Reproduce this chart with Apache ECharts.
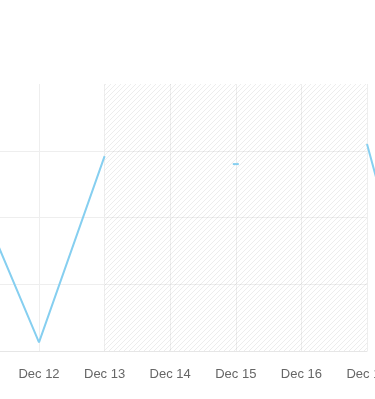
<!DOCTYPE html>
<html>
<head>
<meta charset="utf-8">
<script src="https://cdn.jsdelivr.net/npm/echarts@6/dist/echarts.min.js"></script>
<style>html,body{margin:0;padding:0;background:#fff}#c{width:375px;height:399px}</style>
</head>
<body>
<div id="c"></div>
<script>
var days = ['Dec 11', 'Dec 12', 'Dec 13', 'Dec 14', 'Dec 15', 'Dec 16', 'Dec 17', 'Dec 18'];
var values = [2.46, 0.13, 2.92, null, 2.80, null, 3.10, -0.5];
var hatchFrom = 'Dec 13';
var hatchTo = 'Dec 17';
var visibleLast = 'Dec 17';

function hatch() {
  var s = 5;
  var cv = document.createElement('canvas');
  cv.width = s; cv.height = s;
  var ctx = cv.getContext('2d');
  ctx.clearRect(0, 0, s, s);
  ctx.strokeStyle = 'rgba(0,0,0,0.07)';
  ctx.lineWidth = 1;
  ctx.beginPath();
  ctx.moveTo(0, s); ctx.lineTo(s, 0);
  ctx.moveTo(-s, s); ctx.lineTo(s, -s);
  ctx.moveTo(0, 2 * s); ctx.lineTo(2 * s, 0);
  ctx.stroke();
  return cv;
}

var lineData = values.map(function (v, i) {
  if (v === null) return [i, null];
  var prev = i > 0 ? values[i - 1] : null;
  var next = i < values.length - 1 ? values[i + 1] : null;
  if (prev === null && next === null) {
    return { value: [i, v], symbol: 'rect', symbolSize: [6, 2] };
  }
  return [i, v];
});

var lastIdx = days.indexOf(visibleLast);
var step = 65.6;

var chart = echarts.init(document.getElementById('c'), null, { renderer: 'canvas' });
chart.setOption({
  animation: false,
  grid: [
    { left: -26.6, right: 8, top: 84, bottom: 48, containLabel: false, outerBoundsMode: 'none' },
    { left: -26.6, right: 8 - step * (days.length - 1 - lastIdx), top: 84, bottom: 48, containLabel: false, outerBoundsMode: 'none' }
  ],
  xAxis: [{
    gridIndex: 0,
    type: 'value',
    min: 0,
    max: lastIdx,
    interval: 1,
    axisLine: { show: true, lineStyle: { color: '#e6e6e6' } },
    axisTick: { show: false },
    axisLabel: {
      color: '#666666', fontSize: 13, margin: 17,
      fontFamily: 'Liberation Sans, Arial, sans-serif',
      formatter: function (v) { return days[v] || ''; },
      showMinLabel: true, showMaxLabel: true, hideOverlap: false
    },
    splitLine: { show: true, lineStyle: { color: '#eeeeee' } }
  }, {
    gridIndex: 1,
    type: 'value',
    min: 0,
    max: days.length - 1,
    interval: 1,
    show: false
  }],
  yAxis: [{
    gridIndex: 0,
    type: 'value',
    min: 0,
    max: 4,
    interval: 1,
    axisLine: { show: false },
    axisTick: { show: false },
    axisLabel: { show: false },
    splitLine: { show: true, showMaxLine: false, lineStyle: { color: '#eeeeee' } }
  }, {
    gridIndex: 1,
    type: 'value',
    min: 0,
    max: 4,
    interval: 1,
    show: false
  }],
  series: [{
    type: 'line',
    xAxisIndex: 0,
    yAxisIndex: 0,
    data: [],
    markArea: {
      silent: true,
      itemStyle: { color: { image: hatch(), repeat: 'repeat' } },
      data: [[{ xAxis: days.indexOf(hatchFrom) }, { xAxis: days.indexOf(hatchTo) }]]
    }
  }, {
    type: 'line',
    xAxisIndex: 1,
    yAxisIndex: 1,
    data: lineData,
    clip: false,
    symbol: 'none',
    showSymbol: true,
    connectNulls: false,
    lineStyle: { color: '#86cff0', width: 2 },
    itemStyle: { color: '#86cff0' }
  }]
});
</script>
</body>
</html>
